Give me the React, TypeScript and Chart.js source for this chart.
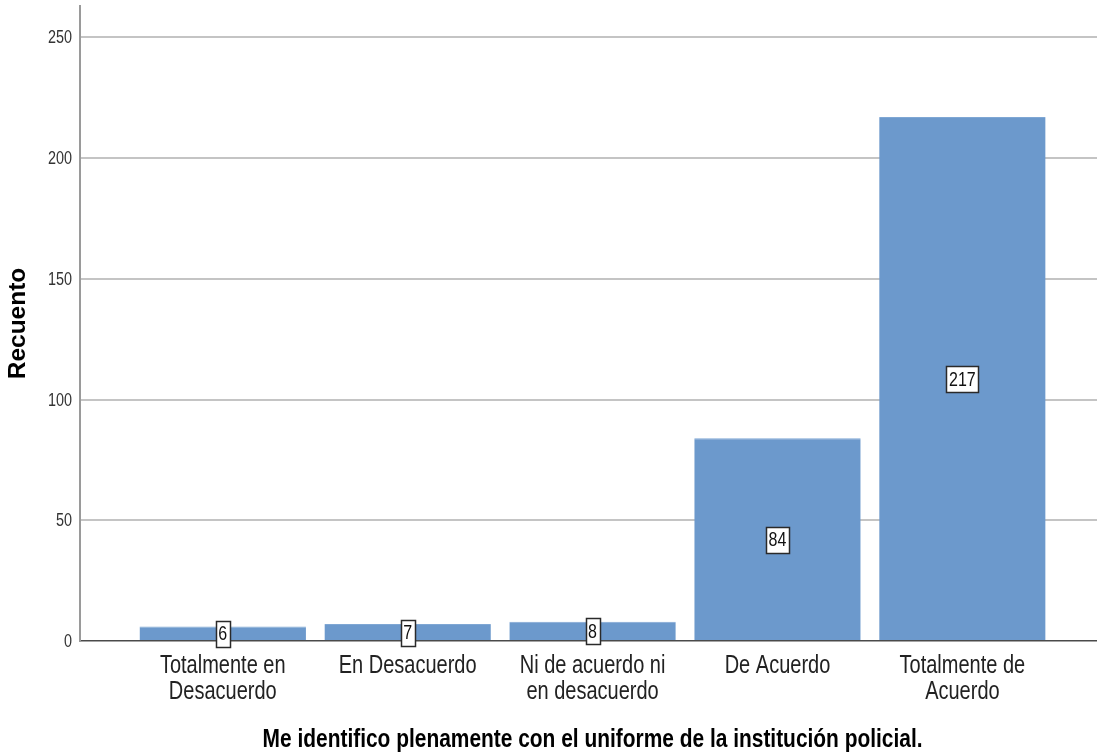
import { useEffect, useRef } from 'react';
import { Chart, registerables } from 'chart.js';

Chart.register(...registerables);

// Response categories (multi-line labels) and their counts
const categories: string[][] = [
  ['Totalmente en', 'Desacuerdo'],
  ['En Desacuerdo'],
  ['Ni de acuerdo ni', 'en desacuerdo'],
  ['De Acuerdo'],
  ['Totalmente de', 'Acuerdo'],
];
const counts: number[] = [6, 7, 8, 84, 217];

// Value axis
const yTicks: number[] = [0, 50, 100, 150, 200, 250];
const yMax = 263;

// Category axis range (index units)
const xMin = -0.772;
const xMax = 4.728;

const xTitle = 'Me identifico plenamente con el uniforme de la institución policial.';
const yTitle = 'Recuento';

const SANS = '"Liberation Sans", Arial, sans-serif';

// Draws text horizontally condensed (narrow face look)
function drawCondensed(
  ctx: CanvasRenderingContext2D,
  text: string,
  x: number,
  y: number,
  font: string,
  sx: number,
  align: CanvasTextAlign,
  color: string
) {
  ctx.save();
  ctx.font = font;
  ctx.fillStyle = color;
  ctx.textAlign = align;
  ctx.textBaseline = 'middle';
  ctx.translate(x, y);
  ctx.scale(sx, 1);
  ctx.fillText(text, 0, 0);
  ctx.restore();
}

// Axis labels in a condensed face, positioned from the chart's scales
const condensedAxisText = {
  id: 'condensedAxisText',
  afterDraw(chart: any) {
    const { ctx, chartArea } = chart;
    const xs = chart.scales.x;
    const ys = chart.scales.y;

    // category labels
    categories.forEach((lines, i) => {
      const px = xs.getPixelForValue(i);
      lines.forEach((line, j) => {
        drawCondensed(ctx, line, px, chartArea.bottom + 25 + j * 26, `25px ${SANS}`, 0.8, 'center', '#222222');
      });
    });

    // value tick labels
    yTicks.forEach((v) => {
      drawCondensed(ctx, String(v), chartArea.left - 8, ys.getPixelForValue(v) + 1, `18px ${SANS}`, 0.8, 'right', '#333333');
    });

    // category axis title, centred on the category span
    const cx = (xs.getPixelForValue(0) + xs.getPixelForValue(categories.length - 1)) / 2;
    drawCondensed(ctx, xTitle, cx, 740, `bold 25.5px ${SANS}`, 0.82, 'center', '#000000');
  },
};

// Boxed count labels at half the height of each bar
const valueBoxes = {
  id: 'valueBoxes',
  afterDatasetsDraw(chart: any) {
    const { ctx } = chart;
    const yScale = chart.scales.y;
    const meta = chart.getDatasetMeta(0);
    const sx = 0.8;
    ctx.save();
    ctx.font = `20px ${SANS}`;
    meta.data.forEach((bar: any, i: number) => {
      const v = counts[i];
      const text = String(v);
      const cx = bar.x;
      const cy = yScale.getPixelForValue(v / 2);
      const w = Math.round(ctx.measureText(text).width * sx + 5);
      const h = 26;
      const x0 = Math.round(cx - w / 2) + 0.5;
      const y0 = Math.round(cy - h / 2) + 0.5;
      ctx.fillStyle = '#ffffff';
      ctx.fillRect(x0, y0, w, h);
      ctx.strokeStyle = '#2a2a2a';
      ctx.lineWidth = 1.5;
      ctx.strokeRect(x0, y0, w, h);
      drawCondensed(ctx, text, cx, cy + 1, `20px ${SANS}`, sx, 'center', '#111111');
    });
    ctx.restore();
  },
};

export default function App() {
  const canvasRef = useRef<HTMLCanvasElement | null>(null);

  useEffect(() => {
    if (!canvasRef.current) return;
    const chart = new Chart(canvasRef.current, {
      type: 'bar',
      data: {
        datasets: [
          {
            data: counts.map((v, i) => ({ x: i, y: v })),
            backgroundColor: '#6c99cc',
            borderColor: '#7fa7d4',
            borderWidth: { top: 1, left: 0, right: 0, bottom: 0 },
            borderSkipped: 'bottom',
            categoryPercentage: 1,
            barPercentage: 0.9,
          },
        ],
      },
      options: {
        responsive: false,
        animation: false,
        events: [],
        layout: { padding: { top: 6, left: 0, right: 0, bottom: 0 } },
        plugins: {
          legend: { display: false },
          tooltip: { enabled: false },
        },
        scales: {
          x: {
            type: 'linear',
            min: xMin,
            max: xMax,
            offset: false,
            afterBuildTicks: (s: any) => {
              s.ticks = categories.map((_, i) => ({ value: i }));
            },
            afterFit: (s: any) => {
              s.height = 113;
              s.paddingLeft = 0;
              s.paddingRight = 0;
            },
            grid: { display: false, drawTicks: false },
            border: { display: true, color: '#4a4a4a', width: 1.5 },
            ticks: { display: false, autoSkip: false, maxRotation: 0, minRotation: 0 },
            title: { display: false },
          },
          y: {
            type: 'linear',
            min: 0,
            max: yMax,
            afterBuildTicks: (s: any) => {
              s.ticks = yTicks.map((v) => ({ value: v }));
            },
            afterFit: (s: any) => {
              s.width = 80;
              s.paddingTop = 0;
              s.paddingBottom = 0;
            },
            grid: {
              drawTicks: false,
              lineWidth: 2,
              color: (c: any) => (c.tick && c.tick.value === 0 ? 'rgba(0,0,0,0)' : '#c4c4c4'),
            },
            border: { display: true, color: '#9a9a9a', width: 2 },
            ticks: { display: false },
            title: {
              display: true,
              text: yTitle,
              color: '#000000',
              font: { family: SANS, size: 24.5, weight: 'bold', lineHeight: 1.2 },
              padding: { top: 4, bottom: 0 },
            },
          },
        },
      },
      plugins: [valueBoxes, condensedAxisText],
    });
    return () => chart.destroy();
  }, []);

  return (
    <div style={{ position: 'absolute', left: 0, top: 0, width: 1097, height: 754, background: '#ffffff' }}>
      <canvas ref={canvasRef} width={1097} height={754} style={{ display: 'block' }} />
    </div>
  );
}
